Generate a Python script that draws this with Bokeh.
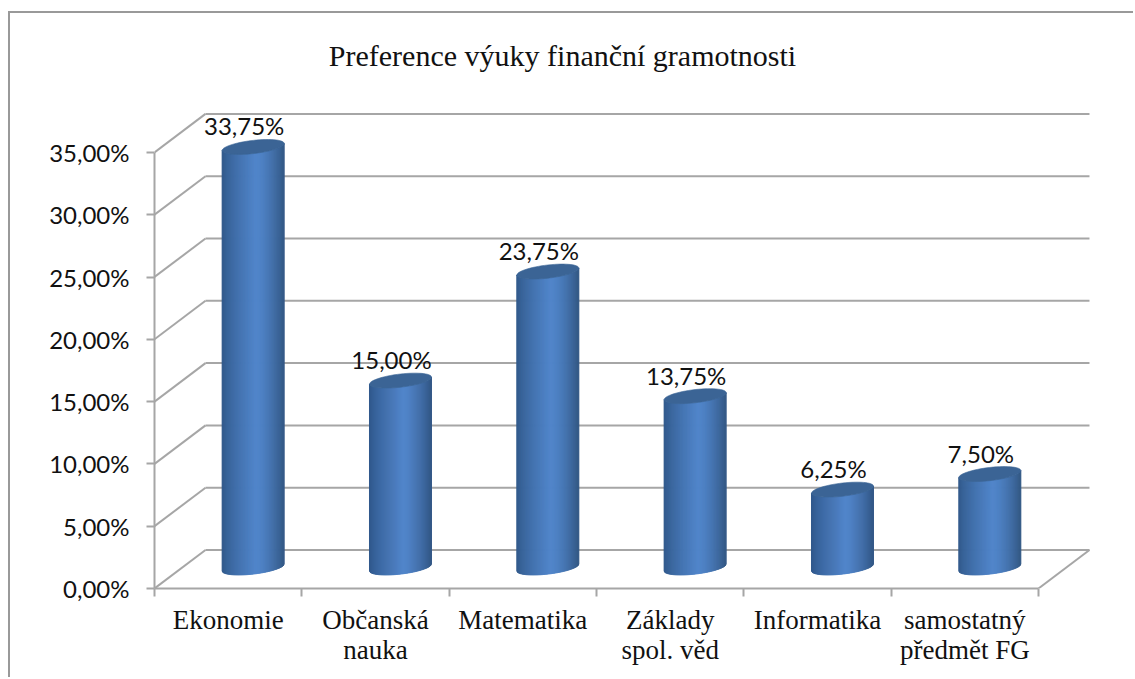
from bokeh.plotting import figure
from bokeh.embed import file_html
from bokeh.resources import INLINE
from bokeh.models import LinearAxis, FixedTicker, Range1d, ColumnDataSource
from bokeh.core.properties import value
import numpy as np

categories = ["Ekonomie", "Občanská\nnauka", "Matematika", "Základy\nspol. věd", "Informatika", "samostatný\npředmět FG"]
values = [33.75, 15.00, 23.75, 13.75, 6.25, 7.50]
value_labels = ["33,75%", "15,00%", "23,75%", "13,75%", "6,25%", "7,50%"]
y_ticks = [0, 5, 10, 15, 20, 25, 30, 35]
y_tick_labels = ["0,00%", "5,00%", "10,00%", "15,00%", "20,00%", "25,00%", "30,00%", "35,00%"]
title_text = "Preference výuky finanční gramotnosti"

W, H = 1125, 666
PX_CAT = 147.33   # pixels per category
PX_PCT = 12.46    # pixels per percent
L, T, Bt = 144, 4, 575
R = 1100

DEPTH_X = 51 / PX_CAT
DEPTH_Y = 38.5 / PX_PCT
BAR_DX = 25 / PX_CAT
BAR_DY = 21 / PX_PCT
RAD_X = 31 / PX_CAT
RAD_Y = 6.6 / PX_PCT
TILT = 3.5 / PX_PCT
GRID = "#A6A6A6"

p = figure(width=W, height=H, output_backend="svg", toolbar_location=None,
           x_range=Range1d(0, (R - L) / PX_CAT), y_range=Range1d(0, (Bt - T) / PX_PCT),
           x_axis_type=None, y_axis_type=None,
           min_border_left=L, min_border_right=W - R, min_border_top=T, min_border_bottom=H - Bt)
p.outline_line_color = None
p.grid.visible = False
p.styles = {"border-left": "2px solid #999999", "border-top": "2px solid #999999",
            "margin-left": "8px", "margin-top": "11px"}

# walls
n = len(categories)
p.segment(x0=[0] * len(y_ticks), y0=y_ticks,
          x1=[DEPTH_X] * len(y_ticks), y1=[t + DEPTH_Y for t in y_ticks],
          line_color=GRID, line_width=2)
p.segment(x0=[DEPTH_X] * len(y_ticks), y0=[t + DEPTH_Y for t in y_ticks],
          x1=[n + DEPTH_X] * len(y_ticks), y1=[t + DEPTH_Y for t in y_ticks],
          line_color=GRID, line_width=2)
p.segment(x0=[n], y0=[0], x1=[n + DEPTH_X], y1=[DEPTH_Y], line_color=GRID, line_width=2)


def shade(u):
    """u in -1..1 across a cylinder: dark edges, lighter a little right of centre."""
    dark_l = np.array([0x2F, 0x57, 0x88])
    mid = np.array([0x50, 0x85, 0xCA])
    dark_r = np.array([0x33, 0x58, 0x85])
    if u < 0.1:
        f = ((u + 1) / 1.1) ** 0.75
        c = dark_l + (mid - dark_l) * f
    else:
        f = ((u - 0.1) / 0.9) ** 1.5
        c = mid + (dark_r - mid) * f
    return "#%02X%02X%02X" % tuple(int(round(v)) for v in c)


xs, ys, cols = [], [], []
cap_x, cap_y = [], []
STRIPS = 62
for i, v in enumerate(values):
    cx = i + 0.5 + BAR_DX
    y0 = BAR_DY
    y1 = v + BAR_DY
    edges = np.linspace(-1, 1, STRIPS + 1)
    for a, b in zip(edges[:-1], edges[1:]):
        uu = np.linspace(a, b, 3)
        front = RAD_Y * np.sqrt(np.clip(1 - uu ** 2, 0, 1))
        tilt = TILT * uu
        xx = cx + RAD_X * uu
        xs.append(list(xx) + list(xx[::-1]))
        ys.append(list(y0 - front + tilt) + list((y1 - front + tilt)[::-1]))
        cols.append(shade((a + b) / 2))
    t = np.linspace(0, 2 * np.pi, 61)
    cap_x.append(list(cx + RAD_X * np.cos(t)))
    cap_y.append(list(y1 + RAD_Y * np.sin(t) + TILT * np.cos(t)))

p.patches(xs, ys, fill_color=cols, line_color=cols, line_width=1)
p.patches(cap_x, cap_y, fill_color="#3B6495", line_color="#3B6495", line_width=0.6)

# value labels
lab = ColumnDataSource(dict(
    x=[i + 0.5 + BAR_DX - 9 / PX_CAT for i in range(n)],
    y=[v + BAR_DY + 21 / PX_PCT for v in values],
    t=value_labels))
p.text("x", "y", text="t", source=lab, text_align="center", text_baseline="middle",
       text_font=value("Lato"), text_font_size="24px", text_color="#111111")

# axes
yax = LinearAxis(bounds=(0, 35), ticker=FixedTicker(ticks=y_ticks))
yax.major_label_overrides = dict(zip(y_ticks, y_tick_labels))
yax.major_label_text_font = "Lato"
yax.major_label_text_font_size = "24px"
yax.major_label_text_color = "#111111"
yax.major_label_standoff = 17
yax.axis_line_color = GRID
yax.axis_line_width = 2
yax.major_tick_line_color = GRID
yax.major_tick_line_width = 2
yax.major_tick_in = 0
yax.major_tick_out = 8
yax.minor_tick_line_color = None
p.add_layout(yax, "left")

centers = [i + 0.5 for i in range(n)]
xax = LinearAxis(bounds=(0, n), ticker=FixedTicker(ticks=centers, minor_ticks=list(range(n + 1))))
xax.major_label_overrides = dict(zip(centers, categories))
xax.major_label_text_font = "Liberation Serif"
xax.major_label_text_font_size = "27px"
xax.major_label_text_color = "#111111"
xax.major_label_standoff = 8
xax.major_label_text_line_height = 1.0
xax.axis_line_color = GRID
xax.axis_line_width = 2
xax.major_tick_line_color = None
xax.minor_tick_line_color = GRID
xax.minor_tick_line_width = 2
xax.minor_tick_in = 0
xax.minor_tick_out = 8
p.add_layout(xax, "below")

# title
p.text(x=[(563 - 155) / PX_CAT], y=[(587 - 54) / PX_PCT], text=[title_text],
       text_align="center", text_baseline="middle", text_font=value("Liberation Serif"),
       text_font_size="30px", text_color="#111111")

open("out.html", "w").write(file_html(p, INLINE))
